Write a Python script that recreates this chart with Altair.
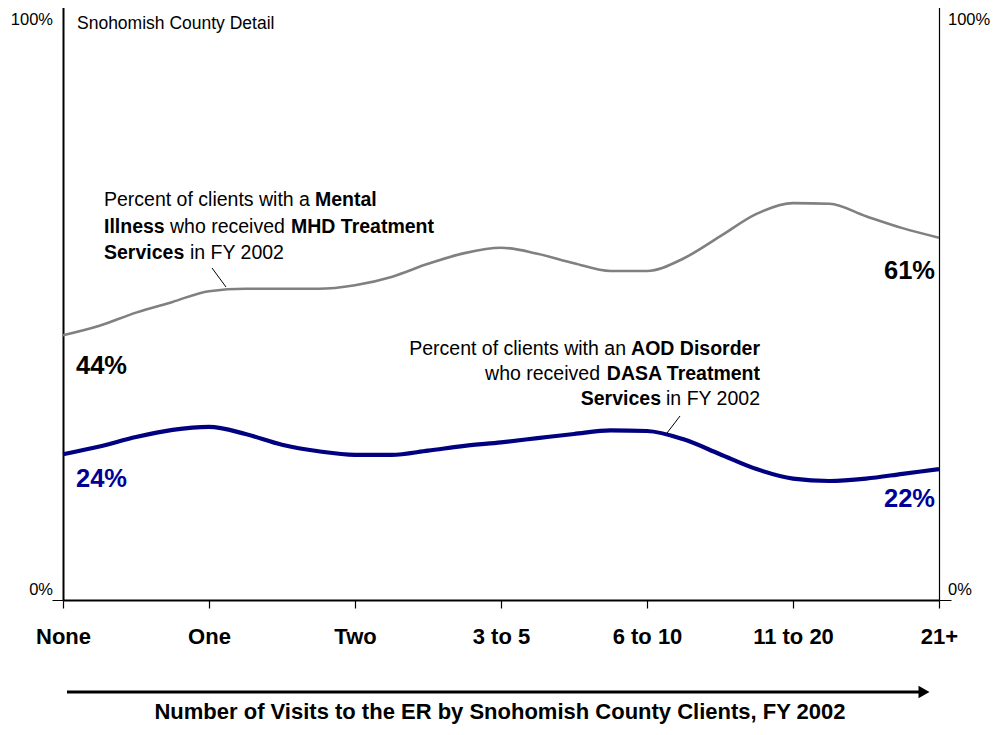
import json
import altair as alt
import pandas as pd

# ---------------- data ----------------
CATEGORIES = ["None", "One", "Two", "3 to 5", "6 to 10", "11 to 20", "21+"]
X_POS = [0, 0.25, 0.5, 0.75, 1, 1.25, 1.5, 1.75, 2, 2.25, 2.5, 2.75, 3,
         3.25, 3.5, 3.75, 4, 4.25, 4.5, 4.75, 5, 5.25, 5.5, 5.75, 6]
MHD_VALUES = [44.5, 46.1, 48.3, 50.1, 51.9, 52.3, 52.3, 52.3, 52.9, 54.3, 56.5, 58.3, 59.2,
              58.2, 56.6, 55.3, 55.3, 57.4, 61.1, 64.9, 66.7, 66.6, 64.5, 62.5, 60.9]
DASA_VALUES = [24.5, 25.8, 27.4, 28.6, 29.1, 27.9, 26.1, 25.0, 24.4, 24.4, 25.1, 25.9, 26.5,
               27.2, 27.9, 28.5, 28.4, 27.0, 24.5, 22.0, 20.4, 20.0, 20.4, 21.2, 22.0]
SERIES = ["MHD", "DASA"]
SERIES_COLORS = ["#808080", "#000080"]
END_LABELS = {"MHD": ["44%", "61%"], "DASA": ["24%", "22%"]}

FONT = "Liberation Sans"
W, H = 876, 595

rows = []
for s, vals in zip(SERIES, [MHD_VALUES, DASA_VALUES]):
    for x, v in zip(X_POS, vals):
        rows.append({"x": x, "value": v, "series": s})
df = pd.DataFrame(rows)

label_expr = json.dumps(CATEGORIES) + "[datum.value]"
X_AXIS = alt.Axis(values=list(range(len(CATEGORIES))), labelExpr=label_expr,
                  tickSize=8, tickColor="black", tickWidth=1.2,
                  domainColor="black", domainWidth=2, labelFont=FONT,
                  labelFontSize=22, labelFontWeight="bold", labelColor="black",
                  labelPadding=18, title=None, grid=False, labelFlush=False)
X_SCALE = alt.Scale(domain=[0, 6], nice=False, zero=False)
Y_SCALE = alt.Scale(domain=[0, 100], nice=False)

lines = alt.Chart(df).mark_line(interpolate="monotone").encode(
    x=alt.X("x:Q", scale=X_SCALE, axis=X_AXIS),
    y=alt.Y("value:Q", scale=Y_SCALE,
            axis=alt.Axis(values=[0, 100], labels=False, tickSize=11, tickColor="black",
                          domainColor="black", domainWidth=2, title=None, grid=False)),
    color=alt.Color("series:N", scale=alt.Scale(domain=SERIES, range=SERIES_COLORS), legend=None),
    strokeWidth=alt.StrokeWidth("series:N", scale=alt.Scale(domain=SERIES, range=[2.6, 4.2]), legend=None),
)

frame_df = pd.DataFrame({"x": [0], "x2": [6], "y": [100]})
frame = alt.Chart(frame_df).mark_rule(color="black", strokeWidth=1.2).encode(
    x=alt.X("x:Q", scale=X_SCALE, axis=X_AXIS),
    x2="x2:Q",
    y=alt.Y("y:Q", scale=Y_SCALE,
            axis=alt.Axis(orient="right", values=[0, 100], labels=False, tickSize=12,
                          tickColor="black", domainColor="black", domainWidth=1.2,
                          title=None, grid=False)),
)

layers = [lines, frame]

# end value labels, placed through the data scales
def end_label(series, idx, text, color, align, dx, dy):
    vals = MHD_VALUES if series == "MHD" else DASA_VALUES
    d = pd.DataFrame({"x": [X_POS[idx]], "value": [vals[idx]], "t": [text]})
    return alt.Chart(d).mark_text(font=FONT, fontSize=25.5, fontWeight="bold", color=color,
                                  align=align, baseline="middle", dx=dx, dy=dy).encode(
        x=alt.X("x:Q", scale=X_SCALE, axis=X_AXIS),
        y=alt.Y("value:Q", scale=Y_SCALE, axis=None),
        text="t:N",
    )

layers += [
    end_label("MHD", 0, END_LABELS["MHD"][0], "black", "left", 13, 31),
    end_label("MHD", -1, END_LABELS["MHD"][1], "black", "right", -4, 33),
    end_label("DASA", 0, END_LABELS["DASA"][0], "#000099", "left", 13, 25),
    end_label("DASA", -1, END_LABELS["DASA"][1], "#000099", "right", -4, 30),
]

one = pd.DataFrame({"a": [0]})

def txt(x, y, text, size=19.5, bold=False, align="left", color="black"):
    return alt.Chart(one).mark_text(font=FONT, fontSize=size,
                                    fontWeight="bold" if bold else "normal",
                                    align=align, baseline="middle", color=color).encode(
        x=alt.value(x), y=alt.value(y), text=alt.value(text))

OX, OY = 63, 5  # plot origin on the page

def T(ax, ay, text, **kw):
    return txt(ax - OX, ay - OY, text, **kw)

layers += [
    T(77, 24, "Snohomish County Detail", size=17.5),
    T(53, 20, "100%", size=16.5, align="right"),
    T(53, 590, "0%", size=16.5, align="right"),
    T(948, 20, "100%", size=16.5),
    T(948, 590, "0%", size=16.5),
    # MHD annotation
    T(104, 200, "Percent of clients with a"),
    T(315, 200, "Mental", bold=True),
    T(104, 226.5, "Illness", bold=True),
    T(170, 226.5, "who received"),
    T(291, 226.5, "MHD Treatment", bold=True),
    T(104, 253, "Services", bold=True),
    T(190, 253, "in FY 2002"),
    # DASA annotation
    T(626, 349, "Percent of clients with an", align="right"),
    T(760, 349, "AOD Disorder", bold=True, align="right"),
    T(600, 374, "who received", align="right"),
    T(760, 374, "DASA Treatment", bold=True, align="right"),
    T(661, 399, "Services", bold=True, align="right"),
    T(760, 399, "in FY 2002", align="right"),
    # axis title
    T(500, 712, "Number of Visits to the ER by Snohomish County Clients, FY 2002",
      size=22, bold=True, align="center"),
]

def seg(ax1, ay1, ax2, ay2, width=1.0):
    return alt.Chart(one).mark_rule(color="black", strokeWidth=width).encode(
        x=alt.value(ax1 - OX), y=alt.value(ay1 - OY),
        x2=alt.value(ax2 - OX), y2=alt.value(ay2 - OY))

layers += [
    seg(212, 268, 226, 287),
    seg(680, 416, 667, 433),
    seg(67, 692, 920, 692, width=3),
    alt.Chart(one).mark_point(shape="triangle-right", filled=True, color="black",
                              opacity=1, size=160).encode(
        x=alt.value(924 - OX), y=alt.value(692 - OY)),
]

chart = alt.layer(*layers).resolve_axis(y="independent").properties(
    width=W, height=H,
    autosize=alt.AutoSizeParams(type="none"),
    padding={"left": 55, "top": -3, "right": 53, "bottom": 127},
).configure_view(stroke=None)

chart.save("out.html", embed_options={"renderer": "svg", "actions": False})
